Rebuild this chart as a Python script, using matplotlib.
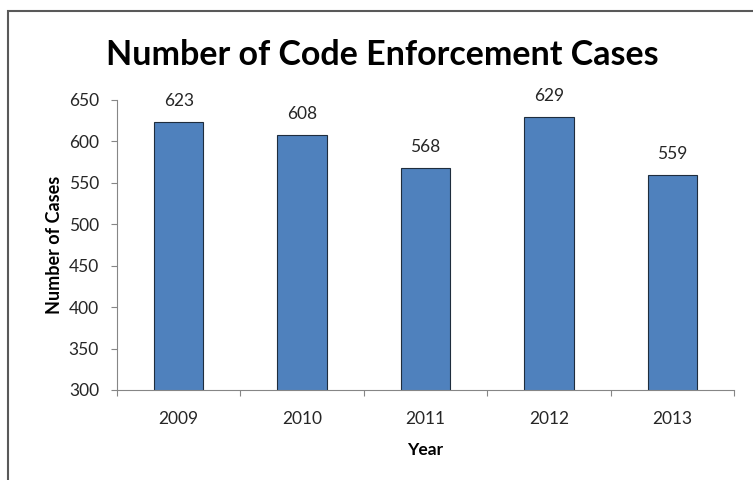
import matplotlib.pyplot as plt
from matplotlib.patches import Rectangle

years = ['2009', '2010', '2011', '2012', '2013']
cases = [623, 608, 568, 629, 559]

plt.rcParams['font.family'] = ['Lato', 'DejaVu Sans']

fig = plt.figure(figsize=(7.53, 4.80), dpi=100)
ax = fig.add_axes([0.1554, 0.1875, 0.8194, 0.6042])

x = range(len(years))
ax.bar(x, cases, width=0.4, color='#4F81BD', edgecolor='#1f2d3d', linewidth=0.8)

for xi, v in zip(x, cases):
    ax.text(xi, v + 16, str(v), ha='center', va='bottom', fontsize=12.5, color='#262626')

ax.set_ylim(300, 650)
ax.set_xlim(-0.5, len(years) - 0.5)
ax.set_yticks(range(300, 651, 50))
# ticks sit between the categories, labels in the middle
ax.set_xticks([i + 0.5 for i in range(-1, len(years))])
ax.set_xticklabels([])
ax.set_xticks(list(x), minor=True)
ax.set_xticklabels(years, minor=True)
ax.tick_params(axis='x', which='minor', length=0, pad=15, labelsize=12.5, labelcolor='#262626')
ax.tick_params(axis='x', which='major', length=4, color='#868686', direction='out')
ax.tick_params(axis='y', length=4, color='#868686', direction='out', labelsize=12.5,
               labelcolor='#262626', pad=9)

for side in ['top', 'right']:
    ax.spines[side].set_visible(False)
for side in ['left', 'bottom']:
    ax.spines[side].set_color('#868686')
    ax.spines[side].set_linewidth(0.8)

fig.text(382 / 753, 1 - 55 / 480, 'Number of Code Enforcement Cases', fontsize=24.5,
         fontweight='bold', ha='center', va='center')
ax.set_ylabel('Number of Cases', fontsize=13, fontweight='bold', labelpad=4)
ax.set_xlabel('Year', fontsize=12.5, fontweight='bold', labelpad=11)

# chart frame running off the right and bottom edges
fig.patches.append(Rectangle((8 / 753, -0.1), 1.2, 1 - 11 / 480 + 0.1,
                             transform=fig.transFigure, fill=False,
                             edgecolor='#595959', linewidth=1.5))

fig.savefig('out.png', dpi=100)
